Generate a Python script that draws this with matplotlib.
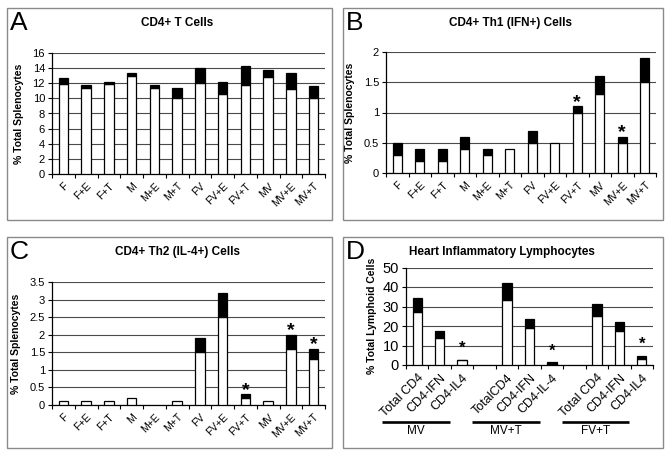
import matplotlib
matplotlib.use("Agg")
import matplotlib.pyplot as plt
from matplotlib.patches import Rectangle
import matplotlib.transforms as mtransforms
import numpy as np

plt.rcParams['font.family'] = ['Liberation Sans', 'DejaVu Sans']

groups = ["F", "F+E", "F+T", "M", "M+E", "M+T", "FV", "FV+E", "FV+T", "MV", "MV+E", "MV+T"]

# Panel A: CD4+ T cells (white = lower part, total = bar top)
a_low = [11.9, 11.4, 11.9, 12.9, 11.4, 10.0, 12.0, 10.6, 11.8, 12.8, 11.2, 10.1]
a_tot = [12.7, 11.8, 12.2, 13.4, 11.8, 11.4, 14.0, 12.1, 14.3, 13.8, 13.4, 11.6]
a_star = []

# Panel B: CD4+ Th1 (IFN+)
b_low = [0.3, 0.2, 0.2, 0.4, 0.3, 0.4, 0.5, 0.5, 1.0, 1.3, 0.5, 1.5]
b_tot = [0.5, 0.4, 0.4, 0.6, 0.4, 0.4, 0.7, 0.5, 1.1, 1.6, 0.6, 1.9]
b_star = ["FV+T", "MV+E"]

# Panel C: CD4+ Th2 (IL-4+)
c_low = [0.1, 0.1, 0.1, 0.2, 0.0, 0.1, 1.5, 2.5, 0.2, 0.1, 1.6, 1.3]
c_tot = [0.1, 0.1, 0.1, 0.2, 0.0, 0.1, 1.9, 3.2, 0.3, 0.1, 2.0, 1.6]
c_star = ["FV+T", "MV+E", "MV+T"]

# Panel D: heart inflammatory lymphocytes
d_labels = ["Total CD4", "CD4-IFN", "CD4-IL4", "", "TotalCD4", "CD4-IFN", "CD4-IL-4", "",
            "Total CD4", "CD4-IFN", "CD4-IL4"]
d_low = [27.3, 14.0, 2.5, 0, 33.3, 19.1, 0.3, 0, 25.1, 17.4, 3.1]
d_tot = [34.2, 17.4, 2.6, 0, 41.9, 23.6, 1.3, 0, 31.3, 22.2, 4.8]
d_star = [2, 6, 10]
d_groups = ["MV", "MV+T", "FV+T"]
d_group_centers = [1, 5, 9]

W, H = 669, 454
fig = plt.figure(figsize=(W / 100, H / 100), dpi=100)


def px_axes(l, t, r, b):
    return fig.add_axes([l / W, 1 - b / H, (r - l) / W, (b - t) / H])


def box(l, t, r, b):
    fig.patches.append(Rectangle((l / W, 1 - b / H), (r - l) / W, (b - t) / H,
                                 transform=fig.transFigure, fill=False,
                                 edgecolor='#8a8a8a', linewidth=1.0))


def style_axes(ax, ymax, ystep, ytickfs, n):
    ax.set_xlim(-0.5, n - 0.5)
    ax.set_ylim(0, ymax)
    yt = np.arange(0, ymax + ystep / 2, ystep)
    ax.set_yticks(yt)
    ax.set_yticklabels([('%g' % v) for v in yt], fontsize=ytickfs)
    ax.yaxis.grid(True, color='#4a4a4a', linewidth=0.8)
    ax.set_axisbelow(True)
    for s in ['top', 'right']:
        ax.spines[s].set_visible(False)
    ax.spines['left'].set_linewidth(0.9)
    ax.spines['bottom'].set_linewidth(0.9)
    ax.tick_params(axis='y', length=3, width=0.8, pad=2)
    ax.set_xticks(np.arange(n))
    ax.set_xticks(np.arange(-0.5, n, 1.0), minor=True)
    ax.tick_params(axis='x', which='major', length=0)
    ax.tick_params(axis='x', which='minor', length=3, width=0.8)


def bars(ax, low, tot, width):
    x = np.arange(len(low))
    low = np.array(low, dtype=float)
    tot = np.array(tot, dtype=float)
    keep = tot > 0
    x, low, tot = x[keep], low[keep], tot[keep]
    wl = low > 0
    ax.bar(x[wl], low[wl], width=width, color='white', edgecolor='black', linewidth=0.9, zorder=3)
    bk = (tot - low) > 0
    ax.bar(x[bk], (tot - low)[bk], bottom=low[bk], width=width, color='black',
           edgecolor='black', linewidth=0.9, zorder=3)


def stars(ax, names_or_idx, tot, fs, off):
    for k in names_or_idx:
        i = groups.index(k) if isinstance(k, str) else k
        ax.annotate('*', (i, tot[i]), xytext=(0, off), textcoords='offset points',
                    ha='center', va='bottom', fontsize=fs, fontweight='bold', zorder=5)


def panel(ax, low, tot, star, ymax, ystep, title, letter, ylabel, box_px):
    bars(ax, low, tot, 0.41)
    style_axes(ax, ymax, ystep, 8, len(low))
    ax.set_xticklabels(groups, rotation=45, ha='right', va='top',
                       rotation_mode='anchor', fontsize=7.5)
    ax.tick_params(axis='x', which='major', pad=5)
    ax.set_ylabel(ylabel, fontsize=7.5, fontweight='bold', labelpad=6)
    stars(ax, star, tot, 14, -3)
    l, t, r, b = box_px
    fig.text((l + 3) / W, 1 - (t + 3) / H, letter, fontsize=19, va='top', ha='left')
    fig.text(((l + r) / 2 + 8) / W, 1 - (t + 15) / H, title, fontsize=8.5,
             fontweight='bold', ha='center', va='center')


# boxes
boxA = (7, 8, 332, 220)
boxB = (343, 8, 663, 220)
boxC = (7, 237, 332, 448)
boxD = (343, 237, 663, 448)
for bx in (boxA, boxB, boxC, boxD):
    box(*bx)

axA = px_axes(52, 53, 325, 174)
panel(axA, a_low, a_tot, a_star, 16, 2, 'CD4+ T Cells', 'A', '% Total Splenocytes', boxA)

axB = px_axes(386, 52, 656, 173)
panel(axB, b_low, b_tot, b_star, 2, 0.5, 'CD4+ Th1 (IFN+) Cells', 'B', '% Total Splenocytes', boxB)

axC = px_axes(52, 282, 325, 405)
panel(axC, c_low, c_tot, c_star, 3.5, 0.5, 'CD4+ Th2 (IL-4+) Cells', 'C', '% Total Splenocytes', boxC)

# Panel D
axD = px_axes(406, 267.5, 653, 365)
bars(axD, d_low, d_tot, 0.42)
style_axes(axD, 50, 10, 10.5, len(d_low))
axD.set_xticklabels(d_labels, rotation=45, ha='right', va='top',
                    rotation_mode='anchor', fontsize=9)
axD.tick_params(axis='x', which='major', pad=5)
axD.set_ylabel('% Total Lymphoid Cells', fontsize=7.5, fontweight='bold', labelpad=4)
stars(axD, d_star, d_tot, 12, 3)
l, t, r, b = boxD
fig.text((l + 3) / W, 1 - (t + 3) / H, 'D', fontsize=19, va='top', ha='left')
fig.text(502 / W, 1 - 252 / H, 'Heart Inflammatory Lymphocytes', fontsize=8.5,
         fontweight='bold', ha='center', va='center')

trans = mtransforms.blended_transform_factory(axD.transData, axD.transAxes)
for name, gc in zip(d_groups, d_group_centers):
    cx = gc - 1.05
    axD.plot([cx - 1.5, cx + 1.5], [-0.585, -0.585], transform=trans, color='black',
             linewidth=1.9, clip_on=False, solid_capstyle='butt')
    axD.text(cx, -0.62, name, transform=trans, ha='center', va='top', fontsize=8.5)

fig.savefig('out.png', dpi=100)
